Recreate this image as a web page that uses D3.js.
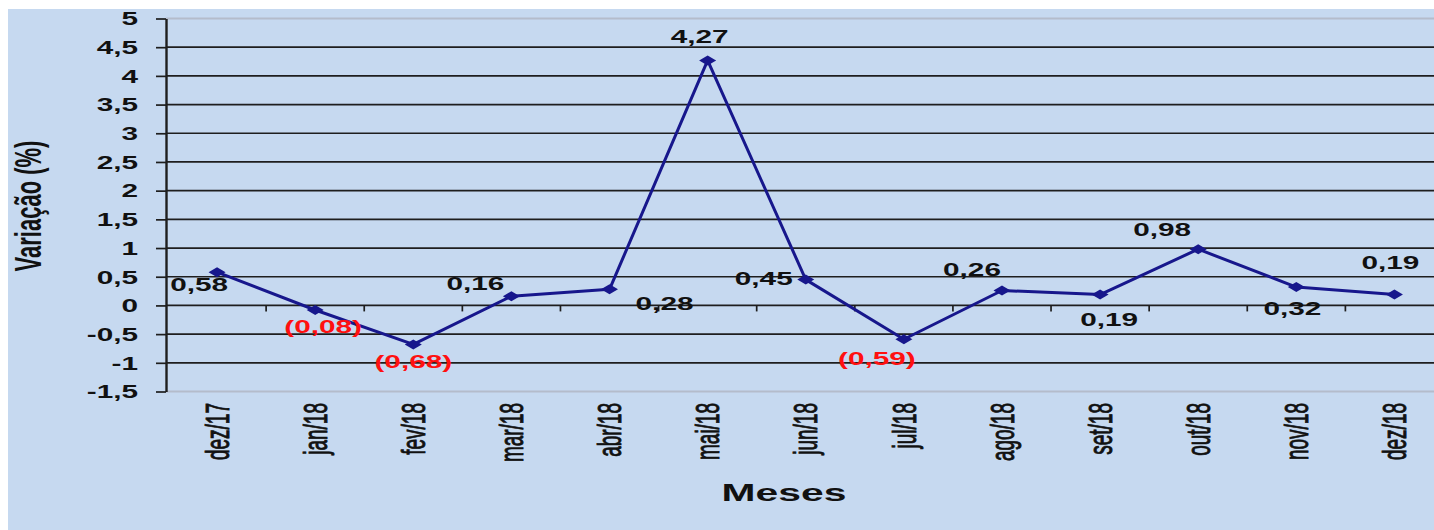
<html>
<head>
<script src="https://cdn.jsdelivr.net/npm/d3@7/dist/d3.min.js"></script>
<style>
  body { margin: 0; background: #ffffff; }
</style>
</head>
<body>
<script>
// chart data
var months = ["dez/17", "jan/18", "fev/18", "mar/18", "abr/18", "mai/18", "jun/18",
              "jul/18", "ago/18", "set/18", "out/18", "nov/18", "dez/18"];
var values = [0.58, -0.08, -0.68, 0.16, 0.28, 4.27, 0.45, -0.59, 0.26, 0.19, 0.98, 0.32, 0.19];
var valueLabels = ["0,58", "(0,08)", "(0,68)", "0,16", "0,28", "4,27", "0,45",
                   "(0,59)", "0,26", "0,19", "0,98", "0,32", "0,19"];
var yTicks = [-1.5, -1, -0.5, 0, 0.5, 1, 1.5, 2, 2.5, 3, 3.5, 4, 4.5, 5];

// where each value label sits relative to its point (px)
var labelOffsets = [[-18, 13], [8, 17], [0, 17], [-36, -13], [55, 14], [-8, -24], [-42, -1],
                    [-27, 19], [-30, -21], [9, 25], [-36, -19], [-4, 22], [-4, -32]];

var w = 1434;
var h = 530;
var sx = 1.7;   // the original picture is stretched sideways
var plotLeft = 166, plotTop = 18.5, plotBottom = 391.5;

var svg = d3.select("body").append("svg")
    .attr("width", w)
    .attr("height", h);

svg.append("rect")
    .attr("x", 8).attr("y", 9)
    .attr("width", w - 8).attr("height", h - 9)
    .attr("fill", "#c6d9f0");

var x = d3.scaleBand()
    .domain(months)
    .range([168, 1443.5]);

var y = d3.scaleLinear()
    .domain([-1.5, 5])
    .range([plotBottom, plotTop]);

// gridlines
svg.append("g").selectAll("line")
    .data(yTicks)
    .enter().append("line")
    .attr("x1", plotLeft).attr("x2", w)
    .attr("y1", function(d) { return y(d); })
    .attr("y2", function(d) { return y(d); })
    .attr("stroke", function(d) { return (d == 5 || d == -1.5) ? "#b4bccb" : "#1e1e1e"; })
    .attr("stroke-width", function(d) { return (d == 5 || d == -1.5) ? 2 : 1.7; });

// y axis
var yAxis = svg.append("g")
    .attr("transform", "translate(" + plotLeft + ",0)")
    .call(d3.axisLeft(y)
        .tickValues(yTicks)
        .tickSize(10)
        .tickSizeOuter(0)
        .tickFormat(function(d) { return String(d).replace(".", ","); }));

yAxis.select(".domain").attr("stroke", "#1e1e1e").attr("stroke-width", 2.4);
yAxis.selectAll(".tick line").attr("stroke", "#1e1e1e").attr("stroke-width", 1.7);
yAxis.selectAll("text")
    .attr("x", 0)
    .attr("dy", "0.36em")
    .attr("transform", "translate(-28,0) scale(" + sx + ",1)")
    .attr("fill", "#111")
    .style("font-family", "'Liberation Sans', Arial, sans-serif")
    .style("font-weight", "bold")
    .style("font-size", "17.5px");

// category ticks on the zero line
svg.append("g").selectAll("line")
    .data(months.slice(1))
    .enter().append("line")
    .attr("x1", function(d) { return x(d); })
    .attr("x2", function(d) { return x(d); })
    .attr("y1", y(0))
    .attr("y2", y(0) + 6)
    .attr("stroke", "#1e1e1e")
    .attr("stroke-width", 1.7);

// month labels
svg.append("g").selectAll("text")
    .data(months)
    .enter().append("text")
    .attr("transform", function(d) {
        return "translate(" + (x(d) + x.bandwidth() / 2) + ",403) scale(" + sx + ",1) rotate(-90)";
    })
    .attr("text-anchor", "end")
    .attr("dy", "0.36em")
    .attr("fill", "#111")
    .attr("stroke", "#111")
    .attr("stroke-width", 0.55)
    .style("font-family", "'Liberation Sans', Arial, sans-serif")
    .style("font-size", "19px")
    .text(function(d) { return d; });

// line
var line = d3.line()
    .x(function(d, i) { return x(months[i]) + x.bandwidth() / 2; })
    .y(function(d) { return y(d); });

svg.append("path")
    .datum(values)
    .attr("d", line)
    .attr("fill", "none")
    .attr("stroke", "#17178c")
    .attr("stroke-width", 3)
    .attr("stroke-linejoin", "round");

// diamond markers
svg.append("g").selectAll("path")
    .data(values)
    .enter().append("path")
    .attr("d", d3.symbol().type(d3.symbolSquare).size(50))
    .attr("transform", function(d, i) {
        return "translate(" + (x(months[i]) + x.bandwidth() / 2) + "," + y(d) + ") scale(" + sx + ",1) rotate(45)";
    })
    .attr("fill", "#17178c");

// value labels
svg.append("g").selectAll("text")
    .data(values)
    .enter().append("text")
    .attr("transform", function(d, i) {
        var px = x(months[i]) + x.bandwidth() / 2 + labelOffsets[i][0];
        var py = y(d) + labelOffsets[i][1];
        return "translate(" + px + "," + py + ") scale(" + sx + ",1)";
    })
    .attr("text-anchor", "middle")
    .attr("dy", "0.36em")
    .attr("fill", function(d) { return d < 0 ? "#ff1010" : "#111"; })
    .style("font-family", "'Liberation Sans', Arial, sans-serif")
    .style("font-weight", "bold")
    .style("font-size", "17.5px")
    .text(function(d, i) { return valueLabels[i]; });

// axis titles
svg.append("text")
    .attr("transform", "translate(28,206) scale(" + sx + ",1) rotate(-90)")
    .attr("text-anchor", "middle")
    .attr("dy", "0.36em")
    .attr("fill", "#111")
    .style("font-family", "'Liberation Sans', Arial, sans-serif")
    .style("font-weight", "bold")
    .style("font-size", "22px")
    .text("Variação (%)");

svg.append("text")
    .attr("transform", "translate(784,501) scale(" + sx + ",1)")
    .attr("text-anchor", "middle")
    .attr("fill", "#111")
    .style("font-family", "'Liberation Sans', Arial, sans-serif")
    .style("font-weight", "bold")
    .style("font-size", "24px")
    .text("Meses");
</script>
</body>
</html>
